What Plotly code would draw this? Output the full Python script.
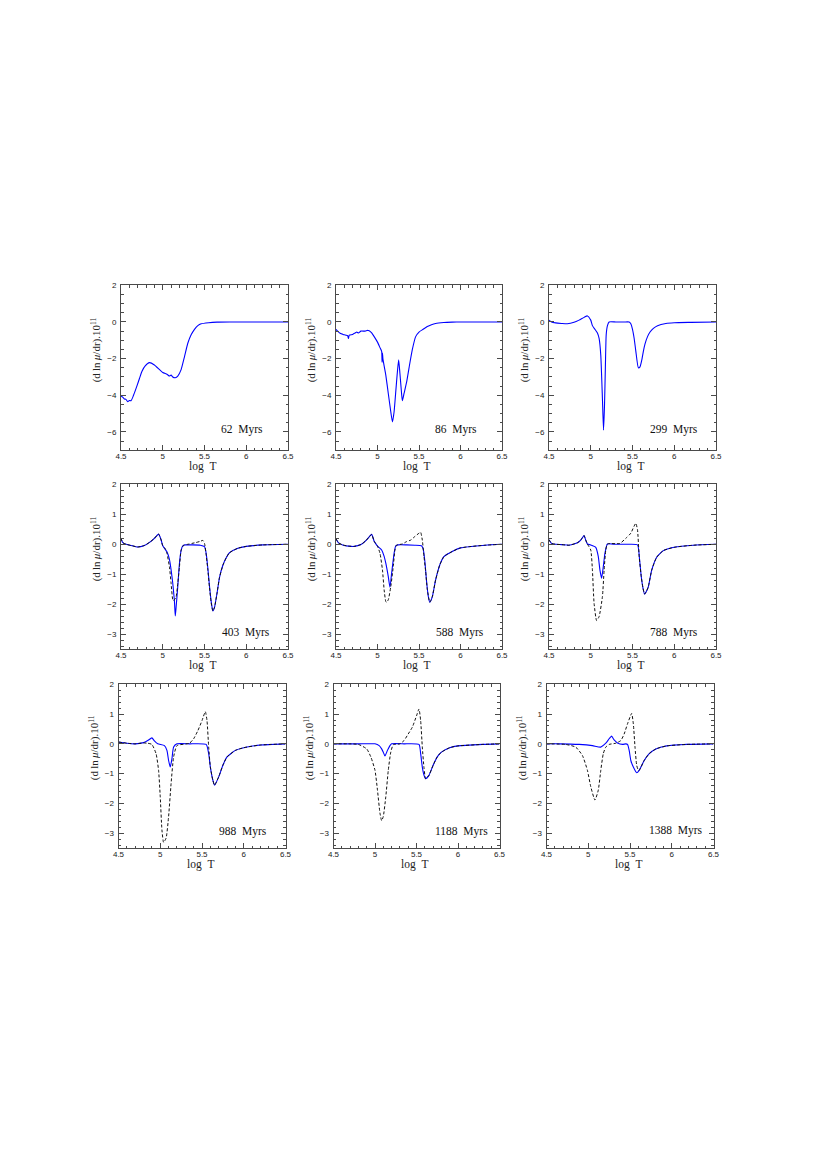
import plotly.graph_objects as go

# page geometry: the html body has an 8px margin, so the figure is drawn 8px in
PAGE_OFF = 8
W, H = 830 - 2 * PAGE_OFF, 1175 - 2 * PAGE_OFF

# ---------------- data ----------------
labels = ["62 Myrs", "86 Myrs", "299 Myrs", "403 Myrs", "588 Myrs", "788 Myrs",
          "988 Myrs", "1188 Myrs", "1388 Myrs"]

# Panel 1 (62 Myrs)
p1_bx = [4.5, 4.52, 4.54, 4.56, 4.58, 4.6, 4.62, 4.65, 4.69, 4.72, 4.75, 4.79, 4.84, 4.9, 5.0,
         5.05, 5.08, 5.1, 5.12, 5.15, 5.18, 5.22, 5.26, 5.3, 5.34, 5.38, 5.42, 5.46, 5.55, 5.65, 5.8, 6.0, 6.5]
p1_by = [-4.05, -4.1, -4.2, -4.22, -4.35, -4.28, -4.3, -4.0, -3.5, -3.1, -2.7, -2.4, -2.22, -2.35, -2.76,
         -2.85, -2.95, -2.9, -3.0, -3.04, -2.95, -2.6, -1.9, -1.16, -0.7, -0.4, -0.2, -0.1, -0.04, -0.01, 0.0, 0.0, 0.0]

# Panel 2 (86 Myrs)
p2_bx = [4.5, 4.52, 4.55, 4.57, 4.6, 4.62, 4.64, 4.65, 4.66, 4.7, 4.73, 4.75, 4.77, 4.8, 4.85, 4.88,
         4.9, 4.93, 4.96, 5.0, 5.03, 5.05, 5.055, 5.06, 5.065, 5.08, 5.1, 5.13, 5.16, 5.18, 5.2, 5.22,
         5.24, 5.255, 5.27, 5.29, 5.30, 5.32, 5.35, 5.38, 5.42, 5.46, 5.5, 5.55, 5.6, 5.65, 5.7, 5.8,
         5.9, 6.0, 6.5]
p2_by = [-0.4, -0.5, -0.62, -0.65, -0.7, -0.72, -0.75, -0.9, -0.72, -0.68, -0.6, -0.55, -0.6, -0.5,
         -0.5, -0.45, -0.48, -0.6, -0.8, -1.1, -1.4, -1.6, -2.2, -1.7, -2.0, -2.4, -2.9, -3.9, -4.9,
         -5.45, -4.9, -3.8, -2.7, -2.07, -2.8, -3.9, -4.3, -3.9, -3.3, -2.5, -1.5, -0.8, -0.55, -0.4,
         -0.25, -0.15, -0.08, -0.03, -0.01, 0.0, 0.0]

# Panel 3 (299 Myrs)
p3_bx = [4.5, 4.53, 4.58, 4.65, 4.72, 4.8, 4.86, 4.92, 4.96, 5.0, 5.02, 5.05, 5.08, 5.1, 5.12, 5.14,
         5.153, 5.165, 5.175, 5.185, 5.2, 5.22, 5.3, 5.4, 5.46, 5.48, 5.5, 5.52, 5.54, 5.57, 5.59, 5.61,
         5.63, 5.65, 5.68, 5.71, 5.75, 5.8, 5.9, 6.0, 6.2, 6.5]
p3_by = [0.1, 0.0, -0.05, -0.08, -0.1, -0.02, 0.1, 0.25, 0.33, 0.1, -0.2, -0.4, -0.6, -0.9, -1.8, -4.2,
         -5.9, -4.5, -2.5, -0.7, -0.2, 0.0, 0.0, 0.0, 0.0, -0.1, -0.4, -0.9, -1.6, -2.5, -2.45, -2.1,
         -1.6, -1.2, -0.8, -0.55, -0.35, -0.2, -0.08, -0.04, -0.02, 0.0]

# Panel 4 (403 Myrs)
p4_bx = [4.5, 4.52, 4.56, 4.62, 4.7, 4.78, 4.85, 4.9, 4.95, 4.98, 5.0, 5.05, 5.08, 5.1, 5.12, 5.14,
         5.15, 5.16, 5.18, 5.2, 5.22, 5.24, 5.27, 5.35, 5.45, 5.5, 5.52, 5.54, 5.56, 5.58, 5.6, 5.62,
         5.65, 5.68, 5.72, 5.76, 5.8, 5.9, 6.0, 6.2, 6.5]
p4_by = [0.2, 0.06, 0.0, -0.04, -0.09, -0.04, 0.08, 0.2, 0.34, 0.15, -0.05, -0.25, -0.5, -0.85, -1.3,
         -1.9, -2.39, -2.1, -1.4, -0.63, -0.2, -0.05, -0.02, -0.02, -0.03, -0.08, -0.3, -0.8, -1.4,
         -1.9, -2.22, -2.1, -1.63, -1.1, -0.7, -0.45, -0.28, -0.13, -0.07, -0.02, 0.0]
p4_dx = [4.5, 4.52, 4.56, 4.62, 4.7, 4.78, 4.85, 4.9, 4.95, 4.98, 5.0, 5.03, 5.05, 5.08, 5.1, 5.12,
         5.13, 5.16, 5.18, 5.2, 5.22, 5.25, 5.3, 5.35, 5.4, 5.45, 5.48, 5.5, 5.52, 5.54, 5.56, 5.58,
         5.6, 5.62, 5.65, 5.68, 5.72, 5.76, 5.8, 5.9, 6.0, 6.2, 6.5]
p4_dy = [0.2, 0.06, 0.0, -0.04, -0.09, -0.04, 0.08, 0.2, 0.34, 0.15, -0.05, -0.15, -0.3, -0.75, -1.3,
         -1.85, -1.88, -1.75, -1.3, -0.75, -0.2, -0.03, 0.0, 0.03, 0.06, 0.1, 0.13, 0.03, -0.35, -0.85,
         -1.45, -1.95, -2.22, -2.1, -1.63, -1.1, -0.7, -0.45, -0.28, -0.13, -0.07, -0.02, 0.0]

# Panel 5 (588 Myrs)
p5_bx = [4.5, 4.53, 4.58, 4.65, 4.72, 4.8, 4.86, 4.9, 4.93, 4.96, 5.0, 5.05, 5.08, 5.1, 5.13, 5.15,
         5.17, 5.2, 5.22, 5.25, 5.35, 5.45, 5.53, 5.55, 5.57, 5.59, 5.61, 5.63, 5.66, 5.7, 5.75, 5.8,
         5.9, 6.0, 6.1, 6.3, 6.5]
p5_by = [0.18, 0.05, -0.02, -0.06, -0.07, -0.01, 0.12, 0.25, 0.33, 0.1, -0.06, -0.19, -0.4, -0.63,
         -1.08, -1.43, -0.97, -0.3, -0.05, -0.02, -0.02, -0.03, -0.05, -0.15, -0.55, -1.2, -1.7, -1.93,
         -1.75, -1.19, -0.69, -0.41, -0.24, -0.12, -0.08, -0.03, 0.0]
p5_dx = [4.5, 4.53, 4.58, 4.65, 4.72, 4.8, 4.86, 4.9, 4.93, 4.96, 5.0, 5.03, 5.06, 5.08, 5.1, 5.11,
         5.13, 5.16, 5.19, 5.21, 5.23, 5.3, 5.35, 5.4, 5.45, 5.5, 5.52, 5.54, 5.56, 5.58, 5.6, 5.63,
         5.66, 5.7, 5.75, 5.8, 5.9, 6.0, 6.1, 6.3, 6.5]
p5_dy = [0.18, 0.05, -0.02, -0.06, -0.07, -0.01, 0.12, 0.25, 0.33, 0.1, -0.06, -0.3, -0.86, -1.52,
         -1.91, -1.93, -1.85, -1.41, -0.74, -0.19, -0.03, 0.01, 0.09, 0.14, 0.26, 0.37, 0.4, 0.14,
         -0.41, -0.9, -1.5, -1.93, -1.75, -1.19, -0.69, -0.41, -0.24, -0.12, -0.08, -0.03, 0.0]

# Panel 6 (788 Myrs)
p6_bx = [4.5, 4.53, 4.58, 4.65, 4.74, 4.84, 4.88, 4.92, 4.94, 4.96, 5.0, 5.06, 5.09, 5.11, 5.13, 5.15,
         5.17, 5.2, 5.3, 5.45, 5.56, 5.585, 5.605, 5.625, 5.645, 5.67, 5.69, 5.73, 5.79, 5.87, 6.0,
         6.23, 6.5]
p6_by = [0.15, 0.03, 0.0, -0.01, -0.03, 0.05, 0.14, 0.29, 0.14, 0.01, -0.02, -0.1, -0.4, -0.86, -1.13,
         -0.75, -0.3, 0.01, 0.0, 0.0, -0.02, -0.52, -1.08, -1.45, -1.66, -1.55, -1.41, -0.86, -0.43,
         -0.21, -0.1, -0.03, 0.0]
p6_dx = [4.5, 4.53, 4.58, 4.65, 4.74, 4.84, 4.88, 4.92, 4.94, 4.96, 5.0, 5.02, 5.04, 5.07, 5.1, 5.14,
         5.16, 5.18, 5.2, 5.35, 5.42, 5.48, 5.52, 5.54, 5.56, 5.58, 5.605, 5.625, 5.645, 5.67, 5.69,
         5.73, 5.79, 5.87, 6.0, 6.23, 6.5]
p6_dy = [0.15, 0.03, 0.0, -0.01, -0.03, 0.05, 0.14, 0.29, 0.14, 0.01, -0.19, -0.86, -1.97, -2.54,
         -2.41, -1.74, -0.86, -0.19, 0.01, 0.03, 0.2, 0.37, 0.61, 0.7, 0.48, -0.41, -1.08, -1.45, -1.66,
         -1.55, -1.41, -0.86, -0.43, -0.21, -0.1, -0.03, 0.0]

# Panel 7 (988 Myrs)
p7_bx = [4.5, 4.6, 4.7, 4.8, 4.85, 4.9, 4.93, 4.97, 5.05, 5.08, 5.1, 5.12, 5.14, 5.16, 5.2, 5.35, 5.55,
         5.58, 5.6, 5.63, 5.65, 5.7, 5.75, 5.8, 5.9, 6.0, 6.2, 6.5]
p7_by = [0.06, 0.02, 0.0, 0.04, 0.11, 0.2, 0.1, 0.0, -0.06, -0.22, -0.56, -0.78, -0.5, -0.11, 0.0, 0.0,
         -0.02, -0.33, -0.78, -1.22, -1.39, -1.11, -0.72, -0.44, -0.22, -0.13, -0.04, 0.0]
p7_dx = [4.5, 4.6, 4.7, 4.8, 4.85, 4.9, 4.95, 4.98, 5.0, 5.02, 5.04, 5.07, 5.1, 5.13, 5.16, 5.2, 5.35,
         5.4, 5.45, 5.5, 5.54, 5.56, 5.58, 5.6, 5.63, 5.65, 5.7, 5.75, 5.8, 5.9, 6.0, 6.2, 6.5]
p7_dy = [0.06, 0.02, 0.0, 0.03, 0.02, -0.02, -0.33, -0.89, -1.78, -2.89, -3.31, -3.17, -2.44, -1.33,
         -0.44, -0.06, 0.02, 0.17, 0.44, 0.78, 1.08, 0.78, -0.11, -0.78, -1.22, -1.39, -1.11, -0.72,
         -0.44, -0.22, -0.13, -0.04, 0.0]

# Panel 8 (1188 Myrs)
p8_bx = [4.5, 4.8, 5.0, 5.05, 5.08, 5.1, 5.12, 5.15, 5.18, 5.2, 5.35, 5.53, 5.55, 5.57, 5.59, 5.61,
         5.65, 5.7, 5.75, 5.8, 5.9, 6.0, 6.3, 6.5]
p8_by = [0.0, 0.0, 0.0, -0.06, -0.17, -0.28, -0.41, -0.22, -0.06, 0.0, 0.0, -0.02, -0.33, -0.78, -1.05,
         -1.17, -1.06, -0.72, -0.44, -0.28, -0.13, -0.07, -0.02, 0.0]
p8_dx = [4.5, 4.7, 4.8, 4.9, 4.95, 5.0, 5.03, 5.06, 5.08, 5.1, 5.13, 5.16, 5.19, 5.22, 5.3, 5.35, 5.4,
         5.45, 5.5, 5.53, 5.55, 5.57, 5.59, 5.61, 5.65, 5.7, 5.75, 5.8, 5.9, 6.0, 6.3, 6.5]
p8_dy = [0.0, 0.0, -0.02, -0.17, -0.44, -0.89, -1.56, -2.33, -2.58, -2.44, -1.78, -0.89, -0.28, -0.03,
         0.0, 0.11, 0.33, 0.56, 0.94, 1.17, 0.78, -0.11, -0.8, -1.17, -1.06, -0.72, -0.44, -0.28,
         -0.13, -0.07, -0.02, 0.0]

# Panel 9 (1388 Myrs)
p9_bx = [4.5, 4.65, 4.89, 5.05, 5.15, 5.21, 5.25, 5.28, 5.31, 5.35, 5.41, 5.45, 5.47, 5.49, 5.51, 5.54,
         5.58, 5.61, 5.67, 5.73, 5.81, 5.94, 6.18, 6.5]
p9_by = [0.0, 0.0, -0.02, -0.06, -0.11, 0.02, 0.17, 0.26, 0.13, 0.03, -0.02, 0.0, -0.02, -0.22, -0.56,
         -0.78, -0.97, -0.89, -0.56, -0.33, -0.17, -0.07, -0.02, 0.0]
p9_dx = [4.5, 4.73, 4.85, 4.93, 4.99, 5.03, 5.08, 5.12, 5.15, 5.18, 5.21, 5.25, 5.33, 5.39, 5.43, 5.47,
         5.52, 5.54, 5.56, 5.58, 5.6, 5.61, 5.67, 5.73, 5.81, 5.94, 6.18, 6.5]
p9_dy = [0.0, -0.02, -0.11, -0.39, -0.89, -1.44, -1.89, -1.56, -0.89, -0.33, -0.11, -0.02, 0.02, 0.11,
         0.33, 0.67, 1.02, 0.67, -0.11, -0.72, -0.89, -0.89, -0.56, -0.33, -0.17, -0.07, -0.02, 0.0]

blue_x = [p1_bx, p2_bx, p3_bx, p4_bx, p5_bx, p6_bx, p7_bx, p8_bx, p9_bx]
blue_y = [p1_by, p2_by, p3_by, p4_by, p5_by, p6_by, p7_by, p8_by, p9_by]
dash_x = [None, None, None, p4_dx, p5_dx, p6_dx, p7_dx, p8_dx, p9_dx]
dash_y = [None, None, None, p4_dy, p5_dy, p6_dy, p7_dy, p8_dy, p9_dy]

x_ticks = [4.5, 5, 5.5, 6, 6.5]
x_ticktext = ["4.5", "5", "5.5", "6", "6.5"]

# ---------------- layout geometry (page pixels) ----------------
cols = [(121, 288), (336, 502), (549, 716)]
rows = [(285.3, 450.3), (484.3, 649.3), (684.3, 848.0)]
row_shift = [0, 0, -2.5]
label_pos = [(265, 429), (479, 429), (700, 429),
             (271.5, 632.5), (486, 632.5), (700, 632.5),
             (269, 831.5), (490, 831.5), (705, 831)]


def px(p):
    return (p - PAGE_OFF) / W


def py(p):
    return 1 - (p - PAGE_OFF) / H


fig = go.Figure()
layout = dict(width=W, height=H, margin=dict(l=0, r=0, t=0, b=0, autoexpand=False),
              paper_bgcolor="white", plot_bgcolor="white", showlegend=False,
              annotations=[])

AXC = "#4a4a4a"
tickfont = dict(family="Liberation Sans, Arial, sans-serif", size=8, color="#222")
serif = "Liberation Serif, DejaVu Serif, serif"

for i in range(9):
    r, c = divmod(i, 3)
    x0, x1 = cols[c][0] + row_shift[r], cols[c][1] + row_shift[r]
    y0, y1 = rows[r]
    n = "" if i == 0 else str(i + 1)
    xa, ya = "x" + n, "y" + n

    fig.add_trace(go.Scatter(x=blue_x[i], y=blue_y[i], xaxis=xa, yaxis=ya, mode="lines",
                             line=dict(color="#0000ff", width=1.1, shape="spline", smoothing=0.5),
                             hoverinfo="skip"))
    if dash_x[i] is not None:
        fig.add_trace(go.Scatter(x=dash_x[i], y=dash_y[i], xaxis=xa, yaxis=ya, mode="lines",
                                 line=dict(color="#111", width=1.0, dash="3px,2px",
                                           shape="spline", smoothing=0.5),
                                 hoverinfo="skip"))

    if r == 0:
        yr, ydt, ymin = [-7, 2], 2, 0.5
    else:
        yr, ydt, ymin = [-3.5, 2], 1, 0.2

    layout["xaxis" + n] = dict(
        domain=[px(x0), px(x1)], anchor=ya, range=[4.5, 6.5],
        tickmode="array", tickvals=x_ticks, ticktext=x_ticktext,
        ticks="inside", ticklen=5, tickwidth=1, tickcolor=AXC,
        minor=dict(ticks="inside", dtick=0.1, tick0=4.5, ticklen=2.5, tickcolor=AXC, showgrid=False),
        showline=True, linecolor=AXC, linewidth=1, mirror="allticks",
        showgrid=False, zeroline=False, tickfont=tickfont, ticklabelstandoff=-2)
    layout["yaxis" + n] = dict(
        domain=[py(y1), py(y0)], anchor=xa, range=yr,
        tick0=0, dtick=ydt,
        ticks="inside", ticklen=5, tickwidth=1, tickcolor=AXC,
        minor=dict(ticks="inside", dtick=ymin, tick0=0, ticklen=2.5, tickcolor=AXC, showgrid=False),
        showline=True, linecolor=AXC, linewidth=1, mirror="allticks",
        showgrid=False, zeroline=False, tickfont=tickfont, ticklabelstandoff=2)

    # y-axis title
    layout["annotations"].append(dict(
        text="(d\u2009ln\u2009<i>μ</i>/dr).10<sup>11</sup>", textangle=-90,
        xref="paper", yref="paper", x=px(x0 - 24.5), y=py((y0 + y1) / 2 - 18),
        xanchor="center", yanchor="middle", showarrow=False,
        font=dict(family=serif, size=11, color="#222")))
    # x-axis title
    layout["annotations"].append(dict(
        text="log\u00a0\u00a0T", xref="paper", yref="paper",
        x=px((x0 + x1) / 2 - 2), y=py(y1 + 16.5),
        xanchor="center", yanchor="middle", showarrow=False,
        font=dict(family=serif, size=11.5, color="#222")))
    # age label
    lx, ly = label_pos[i]
    layout["annotations"].append(dict(
        text=labels[i].replace(" ", "\u00a0\u00a0"), xref="paper", yref="paper",
        x=px(lx), y=py(ly), xanchor="right", yanchor="middle", showarrow=False,
        font=dict(family=serif, size=11.5, color="#111")))

fig.update_layout(**layout)
fig.write_html("out.html")
